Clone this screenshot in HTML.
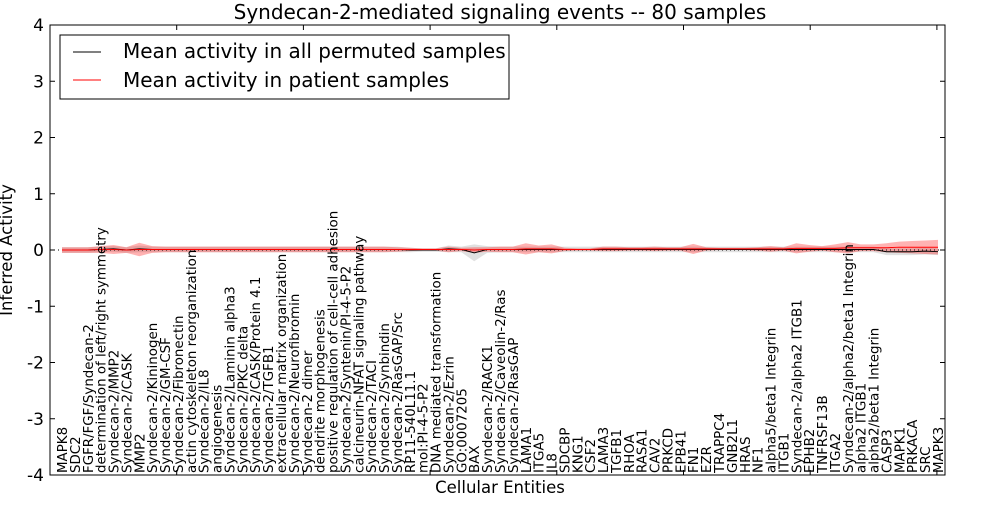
<!DOCTYPE html>
<html><head><meta charset="utf-8"><style>
body{margin:0;background:#fff;}
svg text{font-family:"DejaVu Sans","Liberation Sans",sans-serif;}
</style></head><body>
<svg id="chart" width="1000" height="500" xmlns="http://www.w3.org/2000/svg">
<rect width="1000" height="500" fill="#fff"/>
<text x="500" y="19" font-size="20" text-anchor="middle">Syndecan-2-mediated signaling events -- 80 samples</text>
<g id="plot"></g>
<rect x="50" y="25" width="895" height="450" fill="none" stroke="#000" stroke-width="1"/>
<g id="ticks"></g>
<text transform="translate(12,250) rotate(-90)" font-size="16.5" text-anchor="middle">Inferred Activity</text>
<text x="500" y="493" font-size="16.5" text-anchor="middle">Cellular Entities</text>
<g>
<rect x="60" y="35" width="449" height="64" fill="#fff" stroke="#000" stroke-width="1"/>
<line x1="73" y1="52" x2="101" y2="52" stroke="#000" stroke-width="1"/>
<text x="123" y="58" font-size="20">Mean activity in all permuted samples</text>
<line x1="73" y1="80" x2="101" y2="80" stroke="#f00" stroke-width="1"/>
<text x="123" y="87" font-size="20">Mean activity in patient samples</text>
</g>
</svg>
<script>
const categories=["MAPK8","SDC2","FGFR/FGF/Syndecan-2","determination of left/right symmetry","Syndecan-2/MMP2","Syndecan-2/CASK","MMP2","Syndecan-2/Kininogen","Syndecan-2/GM-CSF","Syndecan-2/Fibronectin","actin cytoskeleton reorganization","Syndecan-2/IL8","angiogenesis","Syndecan-2/Laminin alpha3","Syndecan-2/PKC delta","Syndecan-2/CASK/Protein 4.1","Syndecan-2/TGFB1","extracellular matrix organization","Syndecan-2/Neurofibromin","Syndecan-2 dimer","dendrite morphogenesis","positive regulation of cell-cell adhesion","Syndecan-2/Syntenin/PI-4-5-P2","calcineurin-NFAT signaling pathway","Syndecan-2/TACI","Syndecan-2/Synbindin","Syndecan-2/RasGAP/Src","RP11-540L11.1","mol:PI-4-5-P2","DNA mediated transformation","Syndecan-2/Ezrin","GO:0007205","BAX","Syndecan-2/RACK1","Syndecan-2/Caveolin-2/Ras","Syndecan-2/RasGAP","LAMA1","ITGA5","IL8","SDCBP","KNG1","CSF2","LAMA3","TGFB1","RHOA","RASA1","CAV2","PRKCD","EPB41","FN1","EZR","TRAPPC4","GNB2L1","HRAS","NF1","alpha5/beta1 Integrin","ITGB1","Syndecan-2/alpha2 ITGB1","EPHB2","TNFRSF13B","ITGA2","Syndecan-2/alpha2/beta1 Integrin","alpha2 ITGB1","alpha2/beta1 Integrin","CASP3","MAPK1","PRKACA","SRC","MAPK3"];
const patientMean=[0,0,0,0.01,0.01,0,0.01,0.01,0.01,0.01,0.01,0.01,0.01,0.01,0.01,0.01,0.01,0.01,0.01,0.01,0.01,0.01,0.01,0.01,0.01,0.01,0.01,0.01,0.01,0.01,0.01,0.01,0,0.01,0.01,0.01,0.02,0.02,0.02,0.01,0.01,0.01,0.02,0.02,0.02,0.02,0.02,0.02,0.02,0.02,0.02,0.02,0.02,0.02,0.02,0.02,0.02,0.03,0.03,0.03,0.03,0.04,0.04,0.04,0.04,0.05,0.05,0.05,0.05];
const patientSpread=[0.05,0.05,0.05,0.06,0.08,0.05,0.12,0.06,0.05,0.05,0.05,0.05,0.05,0.05,0.05,0.05,0.05,0.05,0.05,0.05,0.05,0.05,0.05,0.05,0.05,0.05,0.04,0.03,0.02,0.02,0.05,0.03,0.05,0.04,0.05,0.05,0.1,0.06,0.08,0.03,0.02,0.02,0.04,0.04,0.03,0.03,0.04,0.03,0.03,0.09,0.03,0.02,0.02,0.02,0.03,0.05,0.03,0.09,0.06,0.04,0.07,0.1,0.06,0.06,0.08,0.1,0.11,0.12,0.13];
const permutedMean=[0,0,0,0.01,0.02,0,0.02,0.01,0.01,0.01,0.01,0.01,0.01,0.01,0.01,0.01,0.01,0.01,0.01,0.01,0.01,0.01,0.01,0.01,0.01,0.01,0.01,0,0,0,0.02,0.01,-0.05,0.01,0.01,0.01,0.01,0.01,0.01,0.01,0.01,0.01,0.01,0.01,0.01,0.01,0.01,0.01,0.01,0.01,0.01,0.01,0.01,0.01,0.01,0.01,0.01,0.01,0.01,0.01,0.01,0.01,0.01,0.01,-0.03,-0.03,-0.03,-0.02,-0.03];
const permutedSpread=[0.05,0.05,0.05,0.05,0.05,0.05,0.06,0.05,0.05,0.05,0.05,0.05,0.05,0.05,0.05,0.05,0.05,0.05,0.05,0.05,0.05,0.05,0.05,0.05,0.05,0.05,0.05,0.04,0.03,0.03,0.06,0.05,0.15,0.06,0.05,0.05,0.05,0.05,0.05,0.05,0.05,0.05,0.05,0.05,0.05,0.05,0.05,0.05,0.05,0.05,0.05,0.05,0.05,0.05,0.05,0.05,0.05,0.05,0.05,0.05,0.05,0.05,0.05,0.05,0.06,0.06,0.06,0.06,0.06];
const yTicks=[-4,-3,-2,-1,0,1,2,3,4];
const xTicks=[10,20,30,40,50,60,70];

const NS="http://www.w3.org/2000/svg";
const plot=document.getElementById('plot'), tk=document.getElementById('ticks');
const L=50,R=945,T=25,B=475;
const y=v=>250-v*56.25;
const x=i=>62+i*(938-62)/(categories.length-1);
const tx=v=>L+v*12.67;
function mk(tag,a,p){const e=document.createElementNS(NS,tag);for(const k in a)e.setAttribute(k,a[k]);p.appendChild(e);return e;}
function band(m,s){let up=m.map((v,i)=>x(i)+','+y(v+s[i]));let dn=m.map((v,i)=>x(i)+','+y(v-s[i])).reverse();return up.concat(dn).join(' ');}
const g1=mk('polygon',{points:band(permutedMean,permutedSpread),fill:'#bbbbbb','fill-opacity':'0.45',stroke:'none'},plot);


const r1=mk('polygon',{points:band(patientMean,patientSpread),fill:'#ff0000','fill-opacity':'0.3',stroke:'none'},plot);


const z=mk('line',{x1:L,x2:R,y1:y(0),y2:y(0),stroke:'#000','stroke-dasharray':'1,3','stroke-width':'1'},plot);


const bl=mk('polyline',{points:permutedMean.map((v,i)=>x(i)+','+y(v)).join(' '),fill:'none',stroke:'#000','stroke-width':'1'},plot);


const rl=mk('polyline',{points:patientMean.map((v,i)=>x(i)+','+y(v)).join(' '),fill:'none',stroke:'#f00','stroke-width':'1'},plot);


yTicks.forEach(v=>{
  mk('line',{x1:L,x2:L+5,y1:y(v),y2:y(v),stroke:'#000'},tk);
  mk('line',{x1:R-5,x2:R,y1:y(v),y2:y(v),stroke:'#000'},tk);
  const t=mk('text',{x:44,y:y(v)+6,'font-size':'17','text-anchor':'end'},tk);
  t.textContent=v;
  
  
});
xTicks.forEach(v=>{
  mk('line',{x1:tx(v),x2:tx(v),y1:T,y2:T+5,stroke:'#000'},tk);
  mk('line',{x1:tx(v),x2:tx(v),y1:B-5,y2:B,stroke:'#000'},tk);
});
categories.forEach((c,i)=>{
  const t=mk('text',{transform:`translate(${x(i)+5},473) rotate(-90)`,'font-size':'13.4'},tk);
  t.textContent=c;
  
  
});
</script>
</body></html>
